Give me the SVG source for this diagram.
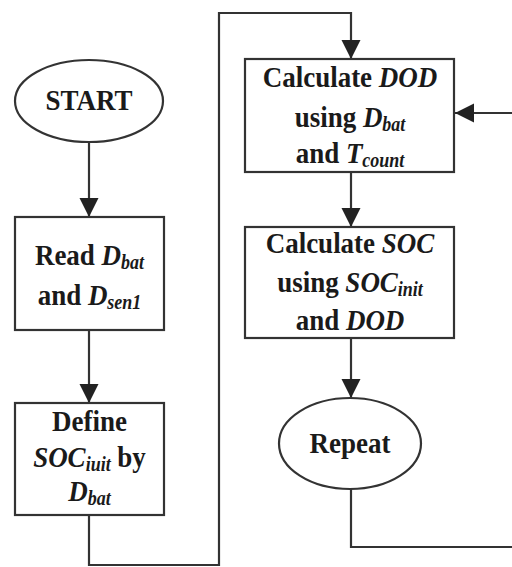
<svg xmlns="http://www.w3.org/2000/svg" width="512" height="567" viewBox="0 0 512 567">
  <style>
    .shape { fill: #ffffff; stroke: #333333; stroke-width: 2.2; }
    .wire { fill: none; stroke: #333333; stroke-width: 2.2; }
    .lbl { font-family: "Liberation Serif", "Times New Roman", serif; font-weight: bold; font-size: 30px; fill: #1a1a1a; text-anchor: middle; }
    .v { font-style: italic; }
    .sub { font-style: italic; font-size: 20px; }
  </style>
  <defs>
    <marker id="arrow" markerUnits="userSpaceOnUse" markerWidth="20" markerHeight="20" refX="19" refY="9.5" orient="auto">
      <path d="M0,0 L19,9.5 L0,19 z" fill="#222222"/>
    </marker>
  </defs>
  <rect width="512" height="567" fill="#ffffff"/>

  <!-- connectors -->
  <g id="connectors">
    <line class="wire" x1="89" y1="143" x2="89" y2="217" marker-end="url(#arrow)"/>
    <line class="wire" x1="89" y1="330" x2="89" y2="403" marker-end="url(#arrow)"/>
    <polyline class="wire" points="89,515 89,565 219,565 219,13 351,13 351,59" marker-end="url(#arrow)"/>
    <line class="wire" x1="351" y1="172" x2="351" y2="227" marker-end="url(#arrow)"/>
    <line class="wire" x1="351" y1="338" x2="351" y2="398" marker-end="url(#arrow)"/>
    <polyline class="wire" points="351,489 351,547 515,547 515,113 455,113" marker-end="url(#arrow)"/>
  </g>

  <!-- labels are set in a slightly condensed face: scaled 0.9 horizontally around each node's centre -->
  <g id="start">
    <ellipse class="shape" cx="89" cy="101" rx="74" ry="41"/>
    <g transform="translate(89,0) scale(0.9,1)">
      <text class="lbl" x="0" y="110">START</text>
    </g>
  </g>

  <g id="read">
    <rect class="shape" x="15" y="217" width="149" height="113"/>
    <g transform="translate(89.5,0) scale(0.9,1)">
      <text class="lbl" x="0" y="265">Read <tspan class="v">D</tspan><tspan class="sub" dy="4">bat</tspan></text>
      <text class="lbl" x="0" y="305">and <tspan class="v">D</tspan><tspan class="sub" dy="4">sen1</tspan></text>
    </g>
  </g>

  <g id="define">
    <rect class="shape" x="15" y="403" width="149" height="112"/>
    <g transform="translate(89.5,0) scale(0.9,1)">
      <text class="lbl" x="0" y="431">Define</text>
      <text class="lbl" x="0" y="467"><tspan class="v">SOC</tspan><tspan class="sub" dy="4">iuit</tspan><tspan dy="-4"> by</tspan></text>
      <text class="lbl" x="0" y="501"><tspan class="v">D</tspan><tspan class="sub" dy="4">bat</tspan></text>
    </g>
  </g>

  <g id="calc-dod">
    <rect class="shape" x="245" y="59" width="209" height="113"/>
    <g transform="translate(350,0) scale(0.9,1)">
      <text class="lbl" x="0" y="87">Calculate <tspan class="v">DOD</tspan></text>
      <text class="lbl" x="0" y="127">using <tspan class="v">D</tspan><tspan class="sub" dy="4">bat</tspan></text>
      <text class="lbl" x="0" y="163">and <tspan class="v">T</tspan><tspan class="sub" dy="4">count</tspan></text>
    </g>
  </g>

  <g id="calc-soc">
    <rect class="shape" x="245" y="227" width="209" height="111"/>
    <g transform="translate(350,0) scale(0.9,1)">
      <text class="lbl" x="0" y="253">Calculate <tspan class="v">SOC</tspan></text>
      <text class="lbl" x="0" y="292">using <tspan class="v">SOC</tspan><tspan class="sub" dy="4">init</tspan></text>
      <text class="lbl" x="0" y="330">and <tspan class="v">DOD</tspan></text>
    </g>
  </g>

  <g id="repeat">
    <ellipse class="shape" cx="350" cy="443.5" rx="71" ry="45.5"/>
    <g transform="translate(350,0) scale(0.9,1)">
      <text class="lbl" x="0" y="453">Repeat</text>
    </g>
  </g>
</svg>
